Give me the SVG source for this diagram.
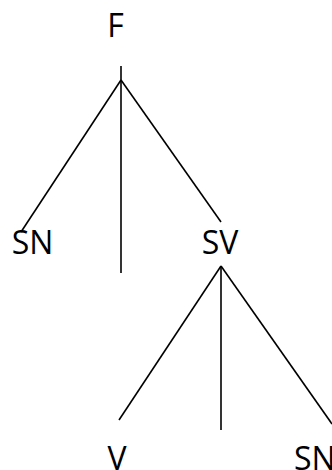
<svg xmlns="http://www.w3.org/2000/svg" width="332" height="470" viewBox="0 0 332 470">
<style>
.lbl{font-family:"Open Sans","Liberation Sans",sans-serif;font-size:32px;fill:#000;text-anchor:middle}
.e{stroke:#000;stroke-width:1.6;fill:none}
</style>
<rect width="332" height="470" fill="#fff"/>
<g id="connectors">
<line class="e" x1="121" y1="66" x2="121" y2="273"/>
<line class="e" x1="121" y1="80" x2="21" y2="232"/>
<line class="e" x1="121" y1="80" x2="221" y2="222"/>
<line class="e" x1="221" y1="266" x2="119" y2="420"/>
<line class="e" x1="221" y1="266" x2="221" y2="430"/>
<line class="e" x1="221" y1="266" x2="332" y2="424"/>
</g>
<g id="node-F"><text class="lbl" x="115.5" y="37">F</text></g>
<g id="node-SN1"><text class="lbl" x="32.5" y="254">SN</text></g>
<g id="node-SV"><text class="lbl" x="220" y="254">SV</text></g>
<g id="node-V"><text class="lbl" x="117" y="470">V</text></g>
<g id="node-SN2"><text class="lbl" x="294" y="470" style="text-anchor:start">SN</text></g>
</svg>
